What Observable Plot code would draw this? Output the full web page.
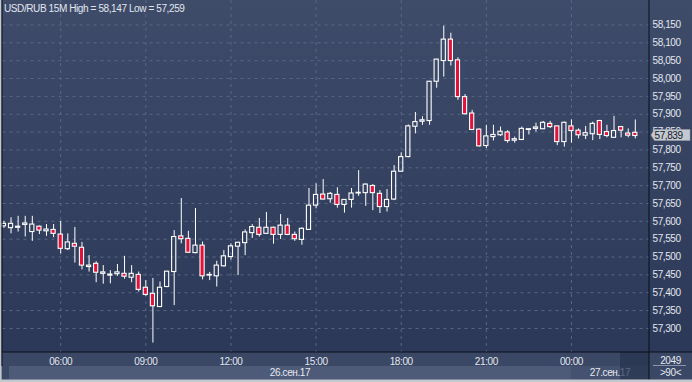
<!DOCTYPE html>
<html><head><meta charset="utf-8">
<script src="https://cdn.jsdelivr.net/npm/d3@7"></script>
<script src="https://cdn.jsdelivr.net/npm/@observablehq/plot@0.6"></script>
<style>
html,body{margin:0;padding:0;background:#c6cad2;}
#chart{position:relative;width:692px;height:382px;overflow:hidden;}
svg{display:block;}
</style></head><body><div id="chart"></div>
<script>
const symbol = "USD/RUB";
const period = "15M";
const startTime = "2017-09-26T04:00:00Z";
const stepMinutes = 15;
const opens = [57.586,57.581,57.582,57.590,57.570,57.585,57.572,57.576,57.563,57.522,
57.537,57.526,57.472,57.481,57.453,57.448,57.452,57.453,57.442,57.450,
57.414,57.397,57.360,57.416,57.458,57.558,57.551,57.511,57.532,57.448,
57.446,57.474,57.500,57.529,57.539,57.567,57.582,57.565,57.582,57.562,
57.588,57.562,57.548,57.576,57.644,57.675,57.662,57.674,57.646,57.660,
57.678,57.679,57.699,57.677,57.640,57.661,57.739,57.780,57.865,57.879,
57.881,57.991,58.049,58.109,58.051,57.948,57.902,57.857,57.811,57.836,
57.841,57.849,57.826,57.828,57.856,57.859,57.858,57.873,57.866,57.822,
57.866,57.854,57.840,57.844,57.881,57.850,57.834,57.864,57.846,57.848];
const highs = [57.600,57.610,57.614,57.614,57.614,57.587,57.591,57.591,57.600,57.565,
57.583,57.541,57.504,57.487,57.476,57.462,57.479,57.502,57.476,57.458,
57.434,57.440,57.430,57.460,57.574,57.664,57.572,57.636,57.542,57.457,
57.488,57.518,57.537,57.541,57.576,57.591,57.608,57.625,57.584,57.619,
57.608,57.570,57.582,57.692,57.705,57.717,57.681,57.694,57.660,57.692,
57.742,57.705,57.703,57.686,57.689,57.756,57.792,57.870,57.905,57.893,
57.992,58.054,58.147,58.127,58.058,57.955,57.911,57.859,57.869,57.869,
57.864,57.854,57.836,57.864,57.859,57.875,57.880,57.880,57.867,57.878,
57.884,57.859,57.866,57.878,57.883,57.869,57.894,57.866,57.859,57.884];
const lows = [57.580,57.565,57.570,57.556,57.544,57.563,57.558,57.554,57.509,57.518,
57.483,57.464,57.458,57.428,57.424,57.425,57.446,57.438,57.428,57.402,
57.390,57.259,57.358,57.414,57.364,57.537,57.511,57.509,57.436,57.434,
57.416,57.472,57.492,57.448,57.504,57.552,57.556,57.563,57.536,57.549,
57.560,57.544,57.533,57.575,57.635,57.660,57.651,57.637,57.623,57.637,
57.670,57.642,57.630,57.622,57.626,57.658,57.738,57.778,57.845,57.869,
57.869,57.973,58.004,58.035,57.939,57.898,57.854,57.808,57.804,57.825,
57.838,57.819,57.819,57.826,57.842,57.850,57.857,57.860,57.812,57.808,
57.819,57.831,57.829,57.826,57.829,57.834,57.833,57.834,57.834,57.831];
const closes = [57.593,57.593,57.585,57.594,57.591,57.574,57.577,57.565,57.523,57.541,
57.529,57.476,57.476,57.456,57.457,57.451,57.457,57.445,57.453,57.408,
57.394,57.362,57.414,57.459,57.556,57.550,57.512,57.532,57.446,57.450,
57.476,57.502,57.530,57.540,57.569,57.584,57.562,57.582,57.562,57.588,
57.562,57.550,57.579,57.644,57.674,57.661,57.677,57.646,57.660,57.678,
57.680,57.703,57.679,57.640,57.660,57.739,57.780,57.866,57.878,57.883,
57.991,58.053,58.109,58.049,57.948,57.900,57.856,57.810,57.838,57.842,
57.851,57.825,57.830,57.859,57.858,57.863,57.876,57.864,57.822,57.876,
57.853,57.841,57.847,57.873,57.842,57.839,57.853,57.854,57.840,57.839];
const yTicks = [57.30,57.35,57.40,57.45,57.50,57.55,57.60,57.65,57.70,57.75,57.80,57.85,57.90,57.95,58.00,58.05,58.10,58.15];
const xTickLabels = ["06:00","09:00","12:00","15:00","18:00","21:00","00:00"];
const dayLabels = ["26.сен.17","27.сен.17"];
const counterTop = "2049";

const MIN = 60000;
const t0 = Date.parse(startTime);
const candles = opens.map((o,i)=>({
  t:new Date(t0+i*stepMinutes*MIN),
  ta:new Date(t0+i*stepMinutes*MIN-4.4*MIN),
  tb:new Date(t0+i*stepMinutes*MIN+4.4*MIN),
  o, h:highs[i], l:lows[i], c:closes[i],
  top:Math.max(o,closes[i]), bot:Math.min(o,closes[i]),
  up:closes[i]>=o
}));
let day = 26, prevH = -1;
const xTicks = xTickLabels.map(s=>{const h=+s.slice(0,2); if(h<prevH) day++; prevH=h; return new Date(Date.UTC(2017,8,day,h,0));});
const midnight = new Date(Date.UTC(2017,8,27,0,0));

const loc = d3.formatLocale({decimal:",",thousands:" ",grouping:[3],currency:["",""]});
const fmt = loc.format(".3f");

const xDomain = [new Date(t0-2*MIN), new Date(t0+(opens.length-1)*stepMinutes*MIN+30*MIN)];
const RED = "#e3123b";
const GRID = "#5a6784";

const plot = Plot.plot({
  width:692, height:382,
  marginLeft:2.5, marginRight:43, marginTop:0, marginBottom:30,
  style:"background:linear-gradient(to bottom,#3e4c6a 0px,#2b3857 352px,#3a4866 352px,#3a4866 382px);font-family:'Liberation Sans',Arial,sans-serif;font-size:10px;letter-spacing:-0.4px;color:#dfe3ec;",
  x:{type:"utc", domain:xDomain},
  y:{domain:[57.2326,58.2186]},
  marks:[
    Plot.gridY(yTicks,{stroke:GRID, strokeOpacity:1, strokeDasharray:"3,4"}),
    Plot.gridX(xTicks,{stroke:GRID, strokeOpacity:1, strokeDasharray:"3,4"}),
    Plot.axisY(yTicks,{anchor:"right", tickSize:0, tickPadding:3, tickFormat:fmt, fill:"#e2e6ee"}),
    Plot.axisX(xTicks,{anchor:"bottom", tickSize:0, tickPadding:5, tickFormat:d3.utcFormat("%H:%M"), fill:"#e2e6ee"}),
    Plot.ruleX(candles,{x:"t", y1:"h", y2:"top", stroke:"#ffffff", strokeWidth:1}),
    Plot.ruleX(candles,{x:"t", y1:"bot", y2:"l", stroke:"#ffffff", strokeWidth:1}),
    Plot.rect(candles,{x1:"ta", x2:"tb", y1:"o", y2:"c", fill:d=>d.up?"none":RED, stroke:"#ffffff", strokeWidth:1.1})
  ]
});
document.getElementById("chart").appendChild(plot);

const xs = plot.scale("x"), ys = plot.scale("y");
const svg = d3.select(plot);
const W = 692, H = 382, plotRight = 649, plotBottom = 352;
const g = svg.append("g").attr("font-family","'Liberation Sans',Arial,sans-serif").attr("font-size",10).attr("letter-spacing","-0.4px").attr("text-anchor","start");

const bandY = 366, bandH = 13.5;
const xm = xs.apply(midnight);
g.append("rect").attr("x",9).attr("y",bandY).attr("width",xm-9).attr("height",bandH).attr("fill","#4d5b79");
g.append("rect").attr("x",xm).attr("y",bandY).attr("width",plotRight-xm).attr("height",bandH).attr("fill","#44526f");
g.append("text").attr("x",(9+xm)/2).attr("y",bandY+bandH/2).attr("dy","0.35em").attr("text-anchor","middle").attr("fill","#e6e9f0").text(dayLabels[0]);
g.append("text").attr("x",(xm+plotRight)/2).attr("y",bandY+bandH/2).attr("dy","0.35em").attr("text-anchor","middle").attr("fill","#e6e9f0").text(dayLabels[1]);
g.append("rect").attr("x",620).attr("y",bandY-14).attr("width",plotRight-620).attr("height",bandH+14).attr("fill","#27334f").attr("opacity",0.72);

g.append("rect").attr("x",0).attr("y",0).attr("width",1.6).attr("height",H).attr("fill","#c3c7cf");
g.append("line").attr("x1",2).attr("x2",2).attr("y1",0).attr("y2",bandY).attr("stroke","#0b0f18").attr("stroke-width",1);
g.append("line").attr("x1",plotRight).attr("x2",plotRight).attr("y1",0).attr("y2",H).attr("stroke","#0b0f18").attr("stroke-width",1);
g.append("line").attr("x1",2).attr("x2",W).attr("y1",plotBottom).attr("y2",plotBottom).attr("stroke","#0b0f18").attr("stroke-width",1);
g.append("rect").attr("x",0).attr("y",bandY+bandH).attr("width",W).attr("height",H-bandY-bandH).attr("fill","#c3c7cf");

g.append("text").attr("x",670.5).attr("y",360).attr("dy","0.35em").attr("text-anchor","middle").attr("fill","#e6e9f0").text(counterTop);
g.append("line").attr("x1",653).attr("x2",686).attr("y1",365.5).attr("y2",365.5).attr("stroke","#8a94a8").attr("stroke-width",1);
g.append("text").attr("x",670.5).attr("y",372.5).attr("dy","0.35em").attr("text-anchor","middle").attr("fill","#e6e9f0").text(">" + opens.length + "<");

const last = closes[closes.length-1];
const py = ys.apply(last) - 0.5;
g.append("path").attr("d",`M${plotRight+2},${py} L${plotRight+5.5},${py-5.5} L${W-2},${py-5.5} L${W-2},${py+5.5} L${plotRight+5.5},${py+5.5} Z`).attr("fill","#c4c8cf").attr("stroke","#9aa0aa").attr("stroke-width",0.6);
g.append("text").attr("x",654.5).attr("y",py).attr("dy","0.35em").attr("text-anchor","start").attr("fill","#111a2c").text(fmt(last));

g.append("text").attr("x",4).attr("y",8.5).attr("dy","0.35em").attr("text-anchor","start").attr("fill","#e2e6ee")
 .text(`${symbol} ${period} High = ${fmt(d3.max(highs))} Low = ${fmt(d3.min(lows))}`);
</script></body></html>
